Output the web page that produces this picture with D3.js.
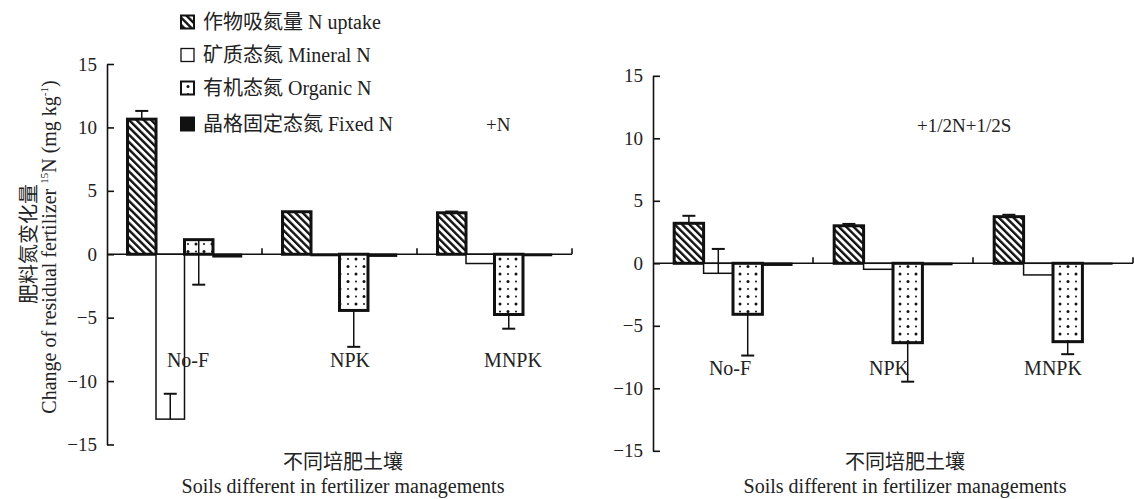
<!DOCTYPE html>
<html>
<head>
<meta charset="utf-8">
<script src="https://cdn.jsdelivr.net/npm/d3@7"></script>
<style>
  html, body { margin: 0; padding: 0; background: #fff; }
  svg { display: block; }
  svg text { font-family: "Liberation Serif", "Times New Roman", "Noto Sans CJK SC", serif !important; fill: #222; }
</style>
</head>
<body>
<svg id="chart" width="1134" height="499"></svg>
<script>
// ---------------- DATA ----------------
const categories = ["No-F", "NPK", "MNPK"];
const seriesNames = ["作物吸氮量 N uptake", "矿质态氮 Mineral N", "有机态氮 Organic N", "晶格固定态氮 Fixed N"];
const seriesKeys = ["uptake", "mineral", "organic", "fixed"];
const yTicks = [-15, -10, -5, 0, 5, 10, 15];

// Panel "+N"
const uptakeN  = [10.65, 3.35, 3.27];
const mineralN = [-13.0, -0.1, -0.73];
const organicN = [1.15, -4.43, -4.75];
const fixedN   = [-0.2, -0.15, -0.1];
// signed error extents (end = value + err)
const uptakeErrN  = [0.65, 0, 0.1];
const mineralErrN = [2.0, 0, 0];
const organicErrN = [-3.55, -2.87, -1.12];
const fixedErrN   = [0, 0, 0];

// Panel "+1/2N+1/2S"
const uptakeNS  = [3.2, 3.0, 3.73];
const mineralNS = [-0.8, -0.48, -0.93];
const organicNS = [-4.08, -6.35, -6.27];
const fixedNS   = [-0.15, -0.1, -0.05];
const uptakeErrNS  = [0.6, 0.15, 0.15];
const mineralErrNS = [1.95, 0, 0];
const organicErrNS = [-3.3, -3.12, -1.0];
const fixedErrNS   = [0, 0, 0];

const panelTitles = ["+N", "+1/2N+1/2S"];
const xTitleCN = "不同培肥土壤";
const xTitleEN = "Soils different in fertilizer managements";
const yTitleCN = "肥料氮变化量";

// ---------------- DRAW ----------------
const svg = d3.select("#chart");
const defs = svg.append("defs");

const stripes = defs.append("pattern").attr("id", "stripes")
  .attr("patternUnits", "userSpaceOnUse").attr("width", 5.2).attr("height", 5.2)
  .attr("patternTransform", "rotate(-45)");
stripes.append("rect").attr("width", 5.2).attr("height", 5.2).attr("fill", "#fff");
stripes.append("rect").attr("width", 2.4).attr("height", 5.2).attr("fill", "#111");

const dots = defs.append("pattern").attr("id", "dots")
  .attr("patternUnits", "userSpaceOnUse").attr("width", 16).attr("height", 15);
dots.append("rect").attr("width", 16).attr("height", 15).attr("fill", "#fff");
[[4, 4, 1.5], [12, 4, 1.0], [4, 11.5, 1.0], [12, 11.5, 1.5]].forEach(([cx, cy, r]) =>
  dots.append("circle").attr("cx", cx).attr("cy", cy).attr("r", r).attr("fill", "#111"));

const style = {
  uptake:  { fill: "url(#stripes)", sw: 3 },
  mineral: { fill: "#fff", sw: 1.5 },
  organic: { fill: "url(#dots)", sw: 3 },
  fixed:   { fill: "#111", sw: 1.5 }
};

const panels = [
  {
    values: { uptake: uptakeN, mineral: mineralN, organic: organicN, fixed: fixedN },
    errs: { uptake: uptakeErrN, mineral: mineralErrN, organic: organicErrN, fixed: fixedErrN },
    xr: [107, 572], yr: [444.5, 64], title: panelTitles[0], titleX: 486, titleY: 131,
    labelShift: [3.5, 10.5, 18.5], labelY: 367, xTitleX: 343
  },
  {
    values: { uptake: uptakeNS, mineral: mineralNS, organic: organicNS, fixed: fixedNS },
    errs: { uptake: uptakeErrNS, mineral: mineralErrNS, organic: organicErrNS, fixed: fixedErrNS },
    xr: [653, 1133], yr: [450.8, 75.8], title: panelTitles[1], titleX: 917, titleY: 132,
    labelShift: [-3, -4, 0], labelY: 375, xTitleX: 905
  }
];

panels.forEach(p => {
  const x = d3.scaleBand().domain(categories).range(p.xr).padding(0);
  const xs = d3.scaleBand().domain(seriesKeys).range([0, x.bandwidth()]).paddingInner(0).paddingOuter(0.72);
  const y = d3.scaleLinear().domain([-15, 15]).range(p.yr);
  const g = svg.append("g");

  // bars
  seriesKeys.forEach(k => {
    const vals = p.values[k];
    g.selectAll(null).data(categories).enter().append("rect")
      .attr("x", c => x(c) + xs(k))
      .attr("width", xs.bandwidth())
      .attr("y", (c, i) => y(Math.max(0, vals[i])))
      .attr("height", (c, i) => Math.abs(y(vals[i]) - y(0)))
      .attr("fill", style[k].fill)
      .attr("stroke", "#111")
      .attr("stroke-width", style[k].sw);
  });

  // x axis (zero line) with category boundary ticks
  g.append("line").attr("x1", p.xr[0]).attr("x2", p.xr[1])
    .attr("y1", y(0)).attr("y2", y(0)).attr("stroke", "#111").attr("stroke-width", 1.6);
  g.selectAll(null).data(categories).enter().append("line")
    .attr("x1", c => x(c) + x.bandwidth()).attr("x2", c => x(c) + x.bandwidth())
    .attr("y1", y(0)).attr("y2", y(0) - 6).attr("stroke", "#111").attr("stroke-width", 1.6);

  // error bars
  seriesKeys.forEach(k => {
    const vals = p.values[k], errs = p.errs[k];
    categories.forEach((c, i) => {
      if (!errs[i]) return;
      const cx = x(c) + xs(k) + xs.bandwidth() / 2;
      const y0 = y(vals[i]), y1 = y(vals[i] + errs[i]);
      g.append("line").attr("x1", cx).attr("x2", cx).attr("y1", y0).attr("y2", y1)
        .attr("stroke", "#111").attr("stroke-width", 1.5);
      g.append("line").attr("x1", cx - 6.5).attr("x2", cx + 6.5).attr("y1", y1).attr("y2", y1)
        .attr("stroke", "#111").attr("stroke-width", 2);
    });
  });

  // y axis
  const ax = g.append("g").attr("transform", `translate(${p.xr[0]},0)`)
    .call(d3.axisLeft(y).tickValues(yTicks).tickSizeInner(-7).tickSizeOuter(0).tickPadding(10));
  ax.attr("font-family", null).attr("font-size", null);
  ax.select(".domain").attr("stroke", "#111").attr("stroke-width", 1.6);
  ax.selectAll(".tick line").attr("stroke", "#111").attr("stroke-width", 1.6);
  ax.selectAll(".tick text").attr("font-size", 19).attr("fill", "#222");

  // category labels
  g.selectAll(null).data(categories).enter().append("text")
    .attr("x", (c, i) => x(c) + x.bandwidth() / 2 + p.labelShift[i])
    .attr("y", p.labelY).attr("text-anchor", "middle").attr("font-size", 20).text(c => c);

  // panel title
  g.append("text").attr("x", p.titleX).attr("y", p.titleY).attr("font-size", 19).text(p.title);

  // x titles
  g.append("text").attr("x", p.xTitleX).attr("y", 469).attr("text-anchor", "middle")
    .attr("font-size", 20).text(xTitleCN);
  g.append("text").attr("x", p.xTitleX).attr("y", 493).attr("text-anchor", "middle")
    .attr("font-size", 20).text(xTitleEN);
});

// y titles (left panel)
svg.append("text").attr("transform", "translate(36,244) rotate(-90)")
  .attr("text-anchor", "middle").attr("font-size", 20).text(yTitleCN);
const yt = svg.append("text").attr("transform", "translate(56,247) rotate(-90)")
  .attr("text-anchor", "middle").attr("font-size", 20);
yt.append("tspan").text("Change of residual fertilizer ");
yt.append("tspan").attr("font-size", 11).attr("dy", -8).text("15");
yt.append("tspan").attr("dy", 8).text("N (mg kg");
yt.append("tspan").attr("font-size", 11).attr("dy", -8).text("-1");
yt.append("tspan").attr("dy", 8).text(")");

// legend
const legendY = [22, 55, 88, 124];
const lg = svg.append("g");
seriesKeys.forEach((k, i) => {
  lg.append("rect").attr("x", 181).attr("y", legendY[i] - 6.5).attr("width", 13).attr("height", 13)
    .attr("fill", style[k].fill).attr("stroke", "#111")
    .attr("stroke-width", k === "mineral" ? 1.3 : 2);
  lg.append("text").attr("x", 203).attr("y", legendY[i] + 7).attr("font-size", 20).text(seriesNames[i]);
});
</script>
</body>
</html>
